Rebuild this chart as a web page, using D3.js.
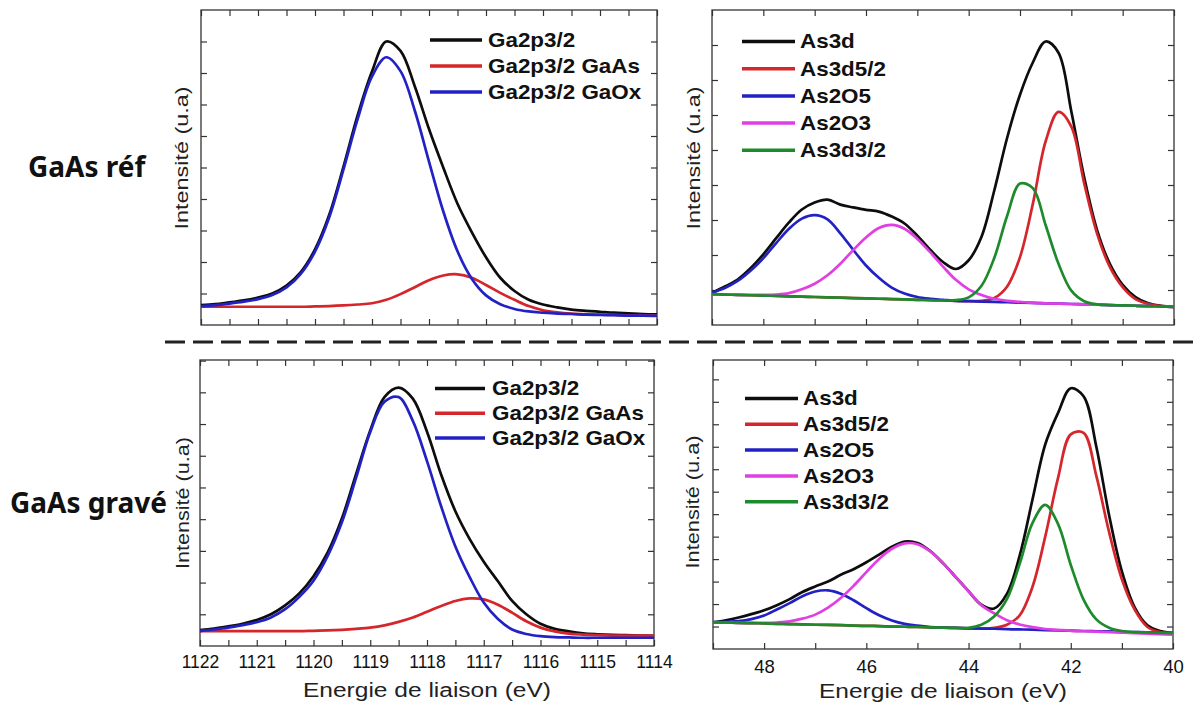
<!DOCTYPE html>
<html><head><meta charset="utf-8">
<script src="https://cdn.jsdelivr.net/npm/d3@7"></script>
<style>body{margin:0;background:#fff}</style>
</head><body>
<svg id="chart" width="1193" height="704"></svg>
<script>
// ---------- DATA ----------
const gaEnergy = [1122,1121.75,1121.5,1121.25,1121,1120.75,1120.5,1120.25,1120,1119.75,1119.5,1119.25,1119,1118.75,1118.5,1118.25,1118,1117.75,1117.5,1117.25,1117,1116.75,1116.5,1116.25,1116,1115.75,1115.5,1115.25,1115,1114.75,1114.5,1114.25,1114];
const asEnergy = [49,48.75,48.5,48.25,48,47.75,47.5,47.25,47,46.75,46.5,46.25,46,45.75,45.5,45.25,45,44.75,44.5,44.25,44,43.75,43.5,43.25,43,42.75,42.5,42.25,42,41.75,41.5,41.25,41,40.75,40.5,40.25,40];

// GaAs réf – Ga2p3/2
const gaRefTotal = [0.63,0.66,0.72,0.78,0.87,1.00,1.25,1.68,2.40,3.50,5.03,6.67,8.05,9.00,8.70,7.58,6.22,5.00,3.85,2.95,2.15,1.50,1.08,0.80,0.65,0.56,0.49,0.45,0.42,0.39,0.37,0.35,0.34];
const gaRefGaAs  = [0.58,0.58,0.58,0.58,0.58,0.58,0.58,0.58,0.59,0.60,0.62,0.65,0.69,0.80,0.98,1.20,1.42,1.57,1.61,1.50,1.27,1.02,0.80,0.60,0.47,0.40,0.36,0.34,0.33,0.32,0.31,0.31,0.30];
const gaRefGaOx  = [0.60,0.63,0.68,0.74,0.82,0.95,1.19,1.62,2.33,3.42,4.94,6.55,7.89,8.50,8.06,6.81,5.19,3.61,2.34,1.47,0.94,0.66,0.51,0.43,0.39,0.36,0.35,0.33,0.32,0.31,0.30,0.30,0.29];

// GaAs gravé – Ga2p3/2
const gaEtchTotal = [0.50,0.55,0.62,0.70,0.82,1.00,1.28,1.66,2.20,2.95,4.02,5.42,6.80,7.85,8.15,7.80,6.76,5.40,4.25,3.38,2.66,2.04,1.42,1.00,0.70,0.54,0.46,0.40,0.37,0.35,0.34,0.33,0.32];
const gaEtchGaAs  = [0.47,0.47,0.47,0.47,0.47,0.47,0.47,0.47,0.48,0.49,0.51,0.54,0.58,0.65,0.76,0.90,1.08,1.26,1.42,1.50,1.47,1.30,1.05,0.78,0.58,0.46,0.39,0.36,0.34,0.33,0.33,0.33,0.33];
const gaEtchGaOx  = [0.47,0.52,0.58,0.66,0.75,0.90,1.16,1.55,2.06,2.84,3.90,5.30,6.75,7.70,7.85,7.10,5.83,4.40,3.14,2.18,1.37,0.85,0.52,0.38,0.31,0.28,0.27,0.26,0.26,0.26,0.26,0.26,0.26];

// GaAs réf – As3d
const asRefTotal = [0.92,1.10,1.30,1.62,2.02,2.48,2.93,3.30,3.50,3.58,3.44,3.36,3.29,3.24,3.10,2.90,2.55,2.15,1.80,1.60,1.85,2.52,3.85,5.35,6.58,7.50,8.10,7.78,6.10,4.22,2.72,1.75,1.15,0.80,0.62,0.55,0.52];
const asRef52    = [0.88,0.87,0.86,0.85,0.84,0.83,0.82,0.81,0.80,0.79,0.78,0.77,0.76,0.75,0.74,0.73,0.72,0.71,0.70,0.69,0.68,0.69,0.77,1.10,1.94,3.46,5.25,6.09,5.67,4.05,2.62,1.66,1.08,0.74,0.60,0.54,0.52];
const asRefAs2O5 = [0.93,1.06,1.26,1.55,1.91,2.34,2.75,3.04,3.14,3.02,2.62,2.15,1.70,1.35,1.07,0.90,0.80,0.75,0.72,0.69,0.68,0.67,0.66,0.65,0.64,0.63,0.62,0.61,0.60,0.59,0.58,0.57,0.56,0.55,0.54,0.53,0.52];
const asRefAs2O3 = [0.87,0.87,0.86,0.86,0.86,0.87,0.91,1.02,1.18,1.42,1.75,2.14,2.50,2.77,2.86,2.75,2.46,2.08,1.67,1.29,1.02,0.86,0.75,0.69,0.66,0.63,0.62,0.61,0.60,0.59,0.58,0.57,0.56,0.55,0.54,0.53,0.52];
const asRef32    = [0.88,0.87,0.86,0.85,0.84,0.83,0.82,0.81,0.80,0.79,0.78,0.77,0.76,0.75,0.74,0.73,0.72,0.71,0.70,0.71,0.79,1.12,1.92,3.12,4.04,3.91,2.85,1.75,0.98,0.68,0.59,0.57,0.56,0.55,0.54,0.53,0.52];

// GaAs gravé – As3d
const asEtchTotal = [1.19,1.28,1.40,1.55,1.72,1.95,2.22,2.54,2.78,3.00,3.30,3.55,3.86,4.20,4.55,4.78,4.72,4.36,3.82,3.20,2.57,1.97,1.80,2.45,4.15,6.64,9.10,10.50,11.60,11.25,9.00,5.95,3.45,1.85,1.05,0.80,0.71];
const asEtch52    = [1.19,1.18,1.16,1.15,1.14,1.12,1.11,1.10,1.08,1.07,1.06,1.04,1.03,1.02,1.00,0.99,0.98,0.96,0.95,0.94,0.92,0.91,0.94,1.08,1.50,2.76,5.00,7.60,9.55,9.62,7.70,5.20,3.10,1.75,0.98,0.75,0.71];
const asEtchAs2O5 = [1.20,1.21,1.24,1.33,1.49,1.76,2.04,2.35,2.56,2.61,2.46,2.17,1.82,1.50,1.27,1.12,1.04,0.98,0.95,0.94,0.92,0.91,0.90,0.88,0.87,0.86,0.84,0.83,0.82,0.80,0.79,0.78,0.76,0.75,0.74,0.72,0.71];
const asEtchAs2O3 = [1.19,1.18,1.16,1.16,1.16,1.18,1.23,1.35,1.53,1.84,2.27,2.81,3.42,4.01,4.46,4.70,4.66,4.34,3.82,3.20,2.57,1.95,1.59,1.28,1.09,0.97,0.89,0.85,0.81,0.79,0.77,0.75,0.73,0.71,0.68,0.66,0.64];
const asEtch32    = [1.19,1.18,1.16,1.15,1.14,1.12,1.11,1.10,1.08,1.07,1.06,1.04,1.03,1.02,1.00,0.99,0.98,0.96,0.95,0.94,0.94,1.08,1.45,2.22,3.79,5.60,6.41,5.57,3.74,2.20,1.32,0.95,0.80,0.75,0.74,0.72,0.71];

// tick labels
const gaTickLabels = [1122,1121,1120,1119,1118,1117,1116,1115,1114];
const asTickLabels = [48,46,44,42,40];
const gaLegend = ["Ga2p3/2","Ga2p3/2 GaAs","Ga2p3/2 GaOx"];
const asLegend = ["As3d","As3d5/2","As2O5","As2O3","As3d3/2"];
const rowLabels = ["GaAs réf","GaAs gravé"];
const yTitle = "Intensité (u.a)";
const xTitle = "Energie de liaison (eV)";

// ---------- DRAW ----------
const svg = d3.select('#chart');
svg.append('rect').attr('width',1193).attr('height',704).attr('fill','#fff');
const C = {black:'#0d0d0d', red:'#d4262b', blue:'#2222c4', magenta:'#e03fe4', green:'#1d8a2b'};
const FONT = "'Liberation Sans', Arial, sans-serif";

function panel(cfg){
  const x = d3.scaleLinear().domain(cfg.xDomain).range([cfg.left, cfg.right]);
  const y = d3.scaleLinear().domain([0, cfg.yMax]).range([cfg.bottom, cfg.top]);
  const g = svg.append('g');
  const clipId = 'clip' + cfg.id;
  svg.append('clipPath').attr('id', clipId).append('rect')
    .attr('x', cfg.left).attr('y', cfg.top)
    .attr('width', cfg.right - cfg.left).attr('height', cfg.bottom - cfg.top);

  const xt = d3.range(cfg.xDomain[1], cfg.xDomain[0] + 1e-6, cfg.xStep);
  const yt = d3.range(1, cfg.yMax, 1);
  const fmt = d => (cfg.labels && cfg.labels.includes(d)) ? String(d) : '';

  const ax = [
    g.append('g').attr('transform', `translate(0,${cfg.bottom})`)
      .call(d3.axisBottom(x).tickValues(xt).tickSize(-6).tickPadding(cfg.pad || 10).tickFormat(fmt)),
    g.append('g').attr('transform', `translate(0,${cfg.top})`)
      .call(d3.axisTop(x).tickValues(xt).tickSize(-6).tickFormat('')),
    g.append('g').attr('transform', `translate(${cfg.left},0)`)
      .call(d3.axisLeft(y).tickValues(yt).tickSize(-6).tickFormat('')),
    g.append('g').attr('transform', `translate(${cfg.right},0)`)
      .call(d3.axisRight(y).tickValues(yt).tickSize(-6).tickFormat(''))
  ];
  ax.forEach(a => {
    a.select('.domain').remove();
    a.selectAll('line').attr('stroke', '#333').attr('stroke-width', 1.2);
    a.selectAll('text').attr('font-family', FONT).attr('font-size', cfg.tickFont || 17.5).attr('fill', '#111');
  });

  g.append('rect').attr('x', cfg.left).attr('y', cfg.top)
    .attr('width', cfg.right - cfg.left).attr('height', cfg.bottom - cfg.top)
    .attr('fill', 'none').attr('stroke', '#333').attr('stroke-width', 1.3);

  const line = d3.line().x(d => x(d[0])).y(d => y(d[1])).curve(d3.curveCatmullRom.alpha(0.5));
  const lg = g.append('g').attr('clip-path', `url(#${clipId})`);
  cfg.series.forEach(s => {
    const pts = cfg.energy.map((e, i) => [e, s.values[i]]);
    lg.append('path').attr('d', line(pts)).attr('fill', 'none')
      .attr('stroke', s.color).attr('stroke-width', 2.7).attr('stroke-linejoin', 'round');
  });

  // legend
  cfg.legend.names.forEach((name, i) => {
    const ly = cfg.legend.y + i * cfg.legend.dy;
    g.append('line').attr('x1', cfg.legend.x1).attr('x2', cfg.legend.x2)
      .attr('y1', ly).attr('y2', ly).attr('stroke', cfg.legend.colors[i]).attr('stroke-width', 3.5);
    g.append('text').attr('transform', `translate(${cfg.legend.tx},${ly}) scale(1.15,1)`)
      .attr('dominant-baseline', 'central').attr('font-family', FONT)
      .attr('font-weight', 'bold').attr('font-size', 19.5).attr('fill', '#111').text(name);
  });

  // y title
  g.append('text').attr('transform', `translate(${cfg.yTitleX},${cfg.yTitleY}) rotate(-90)`)
    .attr('text-anchor', 'middle').attr('dominant-baseline', 'central')
    .attr('font-family', FONT).attr('font-size', 19).attr('fill', '#222')
    .attr('textLength', cfg.yTitleLen).attr('lengthAdjust', 'spacingAndGlyphs').text(yTitle);

  if (cfg.xTitle) {
    g.append('text').attr('x', (cfg.left + cfg.right) / 2).attr('y', cfg.xTitleY)
      .attr('text-anchor', 'middle').attr('font-family', FONT).attr('font-size', 20).attr('fill', '#222')
      .attr('textLength', 248).attr('lengthAdjust', 'spacingAndGlyphs').text(xTitle);
  }
}

const gaColors = [C.black, C.red, C.blue];
const asColors = [C.black, C.red, C.blue, C.magenta, C.green];

panel({id:'tl', left:201, right:657, top:10, bottom:325, xDomain:[1122,1114], xStep:0.5, yMax:10,
  energy: gaEnergy,
  series:[{values:gaRefTotal,color:C.black},{values:gaRefGaAs,color:C.red},{values:gaRefGaOx,color:C.blue}],
  legend:{names:gaLegend, colors:gaColors, x1:430, x2:482, tx:488, y:40, dy:26},
  yTitleX:181, yTitleY:158, yTitleLen:143});

panel({id:'tr', left:712, right:1174, top:10, bottom:325, xDomain:[49,40], xStep:1, yMax:9,
  energy: asEnergy,
  series:[{values:asRefTotal,color:C.black},{values:asRef52,color:C.red},{values:asRefAs2O5,color:C.blue},{values:asRefAs2O3,color:C.magenta},{values:asRef32,color:C.green}],
  legend:{names:asLegend, colors:asColors, x1:742, x2:795, tx:800, y:41.5, dy:27.2},
  yTitleX:693, yTitleY:158, yTitleLen:143});

panel({id:'bl', left:200, right:654, top:360, bottom:646, xDomain:[1122,1114], xStep:0.5, yMax:9.02,
  energy: gaEnergy, labels: gaTickLabels, pad:10,
  series:[{values:gaEtchTotal,color:C.black},{values:gaEtchGaAs,color:C.red},{values:gaEtchGaOx,color:C.blue}],
  legend:{names:gaLegend, colors:gaColors, x1:435, x2:485, tx:492, y:388.5, dy:24.7},
  yTitleX:182, yTitleY:503, yTitleLen:132, xTitle:true, xTitleY:697});

panel({id:'br', left:713, right:1173, top:360, bottom:649, xDomain:[49,40], xStep:1, yMax:12.86,
  energy: asEnergy, labels: asTickLabels, pad:11, tickFont:18.5,
  series:[{values:asEtchTotal,color:C.black},{values:asEtch52,color:C.red},{values:asEtchAs2O5,color:C.blue},{values:asEtchAs2O3,color:C.magenta},{values:asEtch32,color:C.green}],
  legend:{names:asLegend, colors:asColors, x1:745, x2:798, tx:803, y:398.5, dy:25.8},
  yTitleX:692, yTitleY:502, yTitleLen:133, xTitle:true, xTitleY:698});

// divider
svg.append('line').attr('x1', 165).attr('x2', 1193).attr('y1', 342).attr('y2', 342)
  .attr('stroke', '#222').attr('stroke-width', 3).attr('stroke-dasharray', '20 8');

// row labels
svg.append('text').attr('x', 28).attr('y', 177).attr('font-family', "'Noto Sans', 'Open Sans', sans-serif")
  .attr('font-weight', 'bold').attr('font-size', 28).attr('fill', '#111').text(rowLabels[0]);
svg.append('text').attr('x', 10).attr('y', 513).attr('font-family', "'Noto Sans', 'Open Sans', sans-serif")
  .attr('font-weight', 'bold').attr('font-size', 28).attr('fill', '#111').text(rowLabels[1]);
</script>
</body></html>
